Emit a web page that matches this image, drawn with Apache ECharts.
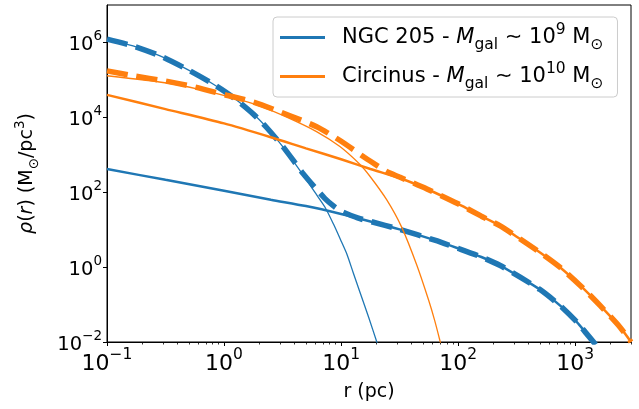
<!DOCTYPE html>
<html><head><meta charset="utf-8">
<script src="https://cdn.jsdelivr.net/npm/echarts@6/dist/echarts.min.js"></script>
<style>html,body{margin:0;padding:0;background:#fff}#c{width:639px;height:409px}</style>
</head><body><div id="c"></div><script>
// ---- data (r in pc, rho in Msun/pc^3) ----
const blueInnerR   = [0.1, 0.167, 0.284, 0.480, 0.811, 1.20, 1.78, 2.32, 3.21, 4.76, 6.03, 7.29, 8.61, 10.0, 11.2, 12.7, 14.5, 17.2, 20.2, 21.4];
const blueInnerRho = [1.23e6, 8.07e5, 4.37e5, 1.93e5, 7.67e4, 3.37e4, 1.22e4, 5.25e3, 1.58e3, 282, 95.5, 39.8, 14.1, 5.01, 2.24, 0.708, 0.214, 0.0457, 0.01, 0.00575];
const blueOuterR   = [0.1, 0.316, 1, 2.51, 5.01, 10, 17.8, 31.6, 63.1, 100, 158, 229, 339, 501, 745, 1035, 1230, 1436, 1549];
const blueOuterRho = [417, 214, 110, 63.1, 42.7, 26.3, 16.6, 10.2, 5.25, 3.16, 1.86, 1.10, 0.537, 0.251, 0.0933, 0.0339, 0.0178, 0.01, 0.0072];
const blueTotR     = [0.1, 0.167, 0.284, 0.480, 0.811, 1.20, 1.78, 2.32, 3.21, 4.76, 6.03, 7.29, 8.61, 10.0, 11.2, 14.5, 17.8, 31.6, 63.1, 100, 158, 229, 339, 501, 745, 1035, 1230, 1436, 1549];
const blueTotRho   = [1.23e6, 8.07e5, 4.37e5, 1.93e5, 7.67e4, 3.37e4, 1.22e4, 5.27e3, 1.6e3, 309, 130, 67.6, 43, 31.3, 26.7, 19.7, 16.6, 10.2, 5.25, 3.16, 1.86, 1.10, 0.537, 0.251, 0.0933, 0.0339, 0.0178, 0.01, 0.0072];

const orangeInnerR   = [0.1, 0.339, 0.624, 1.20, 2.03, 3.47, 6.17, 9.77, 14.3, 17.7, 24.5, 33.0, 44.4, 56.2, 63.1, 70.0, 72.0];
const orangeInnerRho = [1.29e5, 8.13e4, 5.5e4, 3.31e4, 2.0e4, 1.0e4, 4.17e3, 1.66e3, 575, 263, 63.1, 11.5, 1.12, 0.126, 0.0372, 0.0107, 0.0074];
const orangeOuterR   = [0.1, 0.316, 1, 2.51, 5.01, 10, 17.8, 31.6, 54.1, 100, 158, 229, 339, 501, 745, 1104, 1637, 2427, 3000];
const orangeOuterRho = [3.98e4, 1.66e4, 6.9e3, 2.95e3, 1.48e3, 759, 417, 240, 122, 49, 22.9, 12.6, 5.62, 2.45, 0.977, 0.324, 0.0933, 0.0245, 0.01];
const orangeTotR     = [0.1, 0.167, 0.316, 0.565, 1.05, 1.78, 3.66, 6.19, 9.8, 15.8, 17.7, 24.5, 31.6, 54.1, 100, 158, 229, 339, 501, 745, 1104, 1637, 2427, 3000];
const orangeTotRho   = [1.74e5, 1.29e5, 9.3e4, 6.46e4, 3.89e4, 2.57e4, 1.1e4, 5.6e3, 2.4e3, 860, 680, 358, 254, 122, 49, 22.9, 12.6, 5.62, 2.45, 0.977, 0.324, 0.0933, 0.0245, 0.01];

const xMajorTicks = [0.1, 1, 10, 100, 1000];
const xMinorTicks = [0.2,0.3,0.4,0.5,0.6,0.7,0.8,0.9, 2,3,4,5,6,7,8,9, 20,30,40,50,60,70,80,90, 200,300,400,500,600,700,800,900, 2000,3000];
const yMajorTicks = [0.01, 1, 100, 1e4, 1e6];

const BLUE = '#1f77b4', ORANGE = '#ff7f0e';
const FONT = 'DejaVu Sans';

function zip(a, b) { return a.map((v, i) => [v, b[i]]); }
function expLabel(v) {
  const e = Math.round(Math.log10(v));
  return '{b|10}{s|' + (e < 0 ? '\u2212' + (-e) : e) + '}';
}
function lineSeries(name, r, rho, color, width, dashed, z) {
  return {
    type: 'line', name: name, data: zip(r, rho), symbol: 'none', showSymbol: false,
    smooth: 0.25, clip: true, silent: true, z: z,
    lineStyle: { color: color, width: width, type: dashed ? [21, 9] : 'solid', cap: 'butt' },
    itemStyle: { color: color }
  };
}

const legendRich = {
  n:   { fontSize: 21, fontFamily: FONT, color: '#000', padding: [5, 0, 5, 0] },
  f:   { fontSize: 21, fontFamily: FONT, color: '#000', padding: [5, 0, 5, 12] },
  i:   { fontSize: 21, fontFamily: FONT, color: '#000', fontStyle: 'italic', padding: [5, 0, 5, 0] },
  sub: { fontSize: 15.5, fontFamily: FONT, color: '#000', verticalAlign: 'bottom' },
  sup: { fontSize: 15.5, fontFamily: FONT, color: '#000', verticalAlign: 'top' }
};
const legendText = {
  'NGC 205':  '{f|NGC 205 - }{i|M}{sub|gal}{n| \u223c 10}{sup|9}{n| M}{sub|\u2299}',
  'Circinus': '{f|Circinus - }{i|M}{sub|gal}{n| \u223c 10}{sup|10}{n| M}{sub|\u2299}'
};

const chart = echarts.init(document.getElementById('c'), null, { renderer: 'canvas' });
chart.setOption({
  animation: false,
  backgroundColor: '#fff',
  grid: { left: 107, right: 8, top: 5, bottom: 67, show: true, borderColor: '#000', borderWidth: 1, backgroundColor: 'rgba(0,0,0,0)' },
  legend: {
    data: ['NGC 205', 'Circinus'], orient: 'vertical', left: 273, top: 17,
    icon: 'rect', itemWidth: 45, itemHeight: 3, itemGap: 8,
    padding: [5, 14, 5, 7], backgroundColor: 'rgba(255,255,255,0.8)',
    borderColor: '#cccccc', borderWidth: 1, borderRadius: 4,
    formatter: function (n) { return legendText[n]; },
    textStyle: { rich: legendRich },
    selectedMode: false
  },
  xAxis: [{
    type: 'log', logBase: 10, min: 0.1, max: 3000, gridIndex: 0, position: 'bottom',
    axisLine: { show: true, lineStyle: { color: '#000', width: 1 } },
    axisTick: { show: true, length: 4, customValues: xMajorTicks, lineStyle: { color: '#000' } },
    axisLabel: {
      customValues: xMajorTicks, margin: 5, formatter: expLabel, color: '#000',
      rich: {
        b: { fontSize: 22, fontFamily: FONT, color: '#000', padding: [6, 0, 0, 0], verticalAlign: 'bottom' },
        s: { fontSize: 15.5, fontFamily: FONT, color: '#000', verticalAlign: 'top' }
      }
    },
    splitLine: { show: false }, minorTick: { show: false },
    name: 'r (pc)', nameLocation: 'middle', nameGap: 41,
    nameTextStyle: { fontSize: 19, fontFamily: FONT, color: '#000' }
  }, {
    type: 'log', logBase: 10, min: 0.1, max: 3000, gridIndex: 0, position: 'bottom',
    axisLine: { show: false },
    axisTick: { show: true, length: 2.5, customValues: xMinorTicks, lineStyle: { color: '#000', width: 0.8 } },
    axisLabel: { show: false }, splitLine: { show: false }
  }],
  yAxis: {
    type: 'log', logBase: 10, min: 0.01, max: 1e7,
    axisLine: { show: true, lineStyle: { color: '#000', width: 1 } },
    axisTick: { show: true, length: 4, customValues: yMajorTicks, lineStyle: { color: '#000' } },
    axisLabel: {
      customValues: yMajorTicks, margin: 5, formatter: expLabel, color: '#000',
      rich: {
        b: { fontSize: 19.5, fontFamily: FONT, color: '#000', padding: [5, 0, 0, 0], verticalAlign: 'bottom' },
        s: { fontSize: 13.5, fontFamily: FONT, color: '#000', verticalAlign: 'top' }
      }
    },
    splitLine: { show: false }, minorTick: { show: false },
    name: '{i|\u03c1}{n|(}{i|r}{n|) (M}{sub|\u2299}{n|/pc}{sup|3}{n|)}',
    nameLocation: 'middle', nameGap: 66, nameRotate: 90,
    nameTextStyle: {
      rich: {
        n:   { fontSize: 19, fontFamily: FONT, color: '#000', padding: [5, 0, 4, 0] },
        i:   { fontSize: 19, fontFamily: FONT, color: '#000', fontStyle: 'italic', padding: [5, 0, 4, 0] },
        sub: { fontSize: 13.5, fontFamily: FONT, color: '#000', verticalAlign: 'bottom' },
        sup: { fontSize: 13.5, fontFamily: FONT, color: '#000', verticalAlign: 'top' }
      }
    }
  },
  series: [
    lineSeries('NGC 205 inner', blueInnerR, blueInnerRho, BLUE, 1.3, false, 2),
    lineSeries('NGC 205', blueOuterR, blueOuterRho, BLUE, 2.5, false, 2),
    lineSeries('NGC 205 total', blueTotR, blueTotRho, BLUE, 5.5, true, 2),
    lineSeries('Circinus inner', orangeInnerR, orangeInnerRho, ORANGE, 1.3, false, 3),
    lineSeries('Circinus', orangeOuterR, orangeOuterRho, ORANGE, 2.5, false, 3),
    lineSeries('Circinus total', orangeTotR, orangeTotRho, ORANGE, 5.5, true, 3)
  ]
});
</script></body></html>
